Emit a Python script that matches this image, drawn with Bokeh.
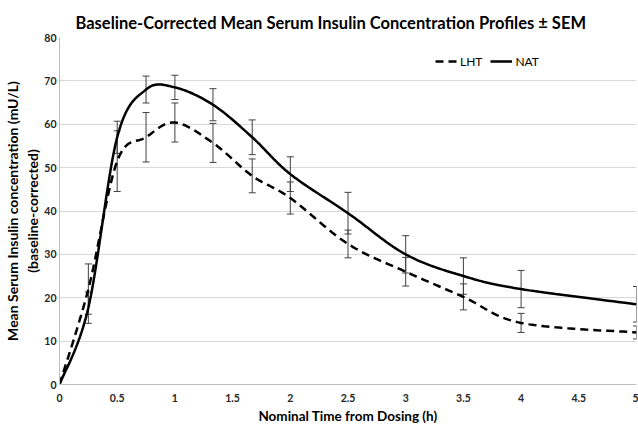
import numpy as np
from bokeh.plotting import figure
from bokeh.models import (ColumnDataSource, Whisker, TeeHead, Legend, LegendItem,
                          FixedTicker, Range1d)
from bokeh.embed import file_html
from bokeh.resources import INLINE

# ---- data ----
time_h = [0, 0.25, 0.5, 0.75, 1.0, 1.33, 1.67, 2.0, 2.5, 3.0, 3.5, 4.0, 5.0]
lht_mean = [0, 22.0, 51.5, 57.0, 60.4, 55.7, 48.1, 43.0, 32.4, 26.0, 20.2, 14.2, 12.0]
lht_sem = [0, 5.8, 7.0, 5.7, 4.5, 4.5, 3.9, 3.7, 3.2, 3.3, 3.0, 2.2, 1.5]
nat_mean = [0, 17.7, 57.0, 68.0, 68.5, 64.5, 57.0, 48.5, 39.5, 30.0, 25.0, 22.0, 18.5]
nat_sem = [0, 3.6, 3.7, 3.1, 2.8, 3.7, 4.0, 4.0, 4.8, 4.3, 4.2, 4.3, 4.1]
x_ticks = [0, 0.5, 1, 1.5, 2, 2.5, 3, 3.5, 4, 4.5, 5]
x_tick_labels = ["0", "0.5", "1", "1.5", "2", "2.5", "3", "3.5", "4", "4.5", "5"]
y_ticks = [0, 10, 20, 30, 40, 50, 60, 70, 80]

FONT = "Lato"


def smooth(xs, ys, sx=115.4, sy=4.34, n=24):
    """Excel-like smoothed line (Bezier through the points)."""
    P = np.column_stack([np.asarray(xs, float) * sx, np.asarray(ys, float) * sy])
    out = [P[0]]
    for i in range(len(P) - 1):
        p0 = P[i - 1] if i > 0 else P[i]
        p1, p2 = P[i], P[i + 1]
        p3 = P[i + 2] if i + 2 < len(P) else P[i + 1]
        c1 = p1 + (p2 - p0) / 6
        c2 = p2 - (p3 - p1) / 6
        t = np.linspace(0, 1, n)[1:, None]
        seg = (1 - t) ** 3 * p1 + 3 * (1 - t) ** 2 * t * c1 + 3 * (1 - t) * t ** 2 * c2 + t ** 3 * p2
        out.extend(seg)
    out = np.array(out)
    return out[:, 0] / sx, out[:, 1] / sy


p = figure(width=638, height=426, x_range=Range1d(0, 5), y_range=Range1d(0, 80),
           output_backend="svg", toolbar_location=None,
           min_border_left=59, min_border_right=2, min_border_top=37, min_border_bottom=42)

p.title.text = "Baseline-Corrected Mean Serum Insulin Concentration Profiles \u00b1 SEM"
p.title.text_font = FONT
p.title.text_font_size = "16.5px"
p.title.text_font_style = "bold"
p.title.align = "left"
p.title.offset = 16
p.title.text_color = "#000000"

p.outline_line_color = None
p.xgrid.grid_line_color = None
p.ygrid.grid_line_color = "#d9d9d9"
p.ygrid.ticker = FixedTicker(ticks=y_ticks)

p.xaxis.ticker = FixedTicker(ticks=x_ticks)
p.xaxis.major_label_overrides = {t: l for t, l in zip(x_ticks, x_tick_labels)}
p.yaxis.ticker = FixedTicker(ticks=y_ticks)
for ax in (p.xaxis, p.yaxis):
    ax.major_tick_line_color = None
    ax.minor_tick_line_color = None
    ax.major_tick_in = 0
    ax.major_tick_out = 0
    ax.axis_line_color = "#bfbfbf"
    ax.major_label_text_font = FONT
    ax.major_label_text_font_size = "10.5px"
    ax.major_label_text_font_style = "bold"
    ax.major_label_text_color = "#262626"
    ax.axis_label_text_font = FONT
    ax.axis_label_text_font_style = "bold"
    ax.axis_label_text_color = "#000000"
p.xaxis.axis_label_text_font_size = "13.5px"
p.yaxis.axis_label_text_font_size = "14px"
p.xaxis.axis_label = "Nominal Time from Dosing (h)"
p.yaxis.axis_label = "Mean Serum Insulin concentration (mU/L)\n(baseline-corrected)"
p.xaxis.major_label_standoff = 9
p.yaxis.major_label_standoff = 3
p.xaxis.axis_label_standoff = 3
p.yaxis.axis_label_standoff = 0

# smoothed lines
lx, ly = smooth(time_h, lht_mean)
nx, ny = smooth(time_h, nat_mean)
r_lht = p.line(lx, ly, line_color="black", line_width=2.5, line_dash="8 5")
r_nat = p.line(nx, ny, line_color="black", line_width=2.5)

# error bars
for mean, sem in ((nat_mean, nat_sem), (lht_mean, lht_sem)):
    xs = [t for t, s in zip(time_h, sem) if s > 0]
    up = [m + s for m, s in zip(mean, sem) if s > 0]
    lo = [m - s for m, s in zip(mean, sem) if s > 0]
    src = ColumnDataSource(dict(x=xs, upper=up, lower=lo))
    w = Whisker(source=src, base="x", upper="upper", lower="lower",
                line_color="#404040", line_width=1,
                upper_head=TeeHead(size=7, line_color="#404040", line_width=1),
                lower_head=TeeHead(size=7, line_color="#404040", line_width=1))
    p.add_layout(w)

legend = Legend(items=[LegendItem(label="LHT", renderers=[r_lht]),
                       LegendItem(label="NAT", renderers=[r_nat])],
                orientation="horizontal", location=(376, 313),
                label_text_font=FONT, label_text_font_size="12px",
                label_text_color="#000000", glyph_width=22, label_standoff=3,
                spacing=8, border_line_color=None, background_fill_alpha=0)
p.add_layout(legend)

open("out.html", "w").write(file_html(p, INLINE))
